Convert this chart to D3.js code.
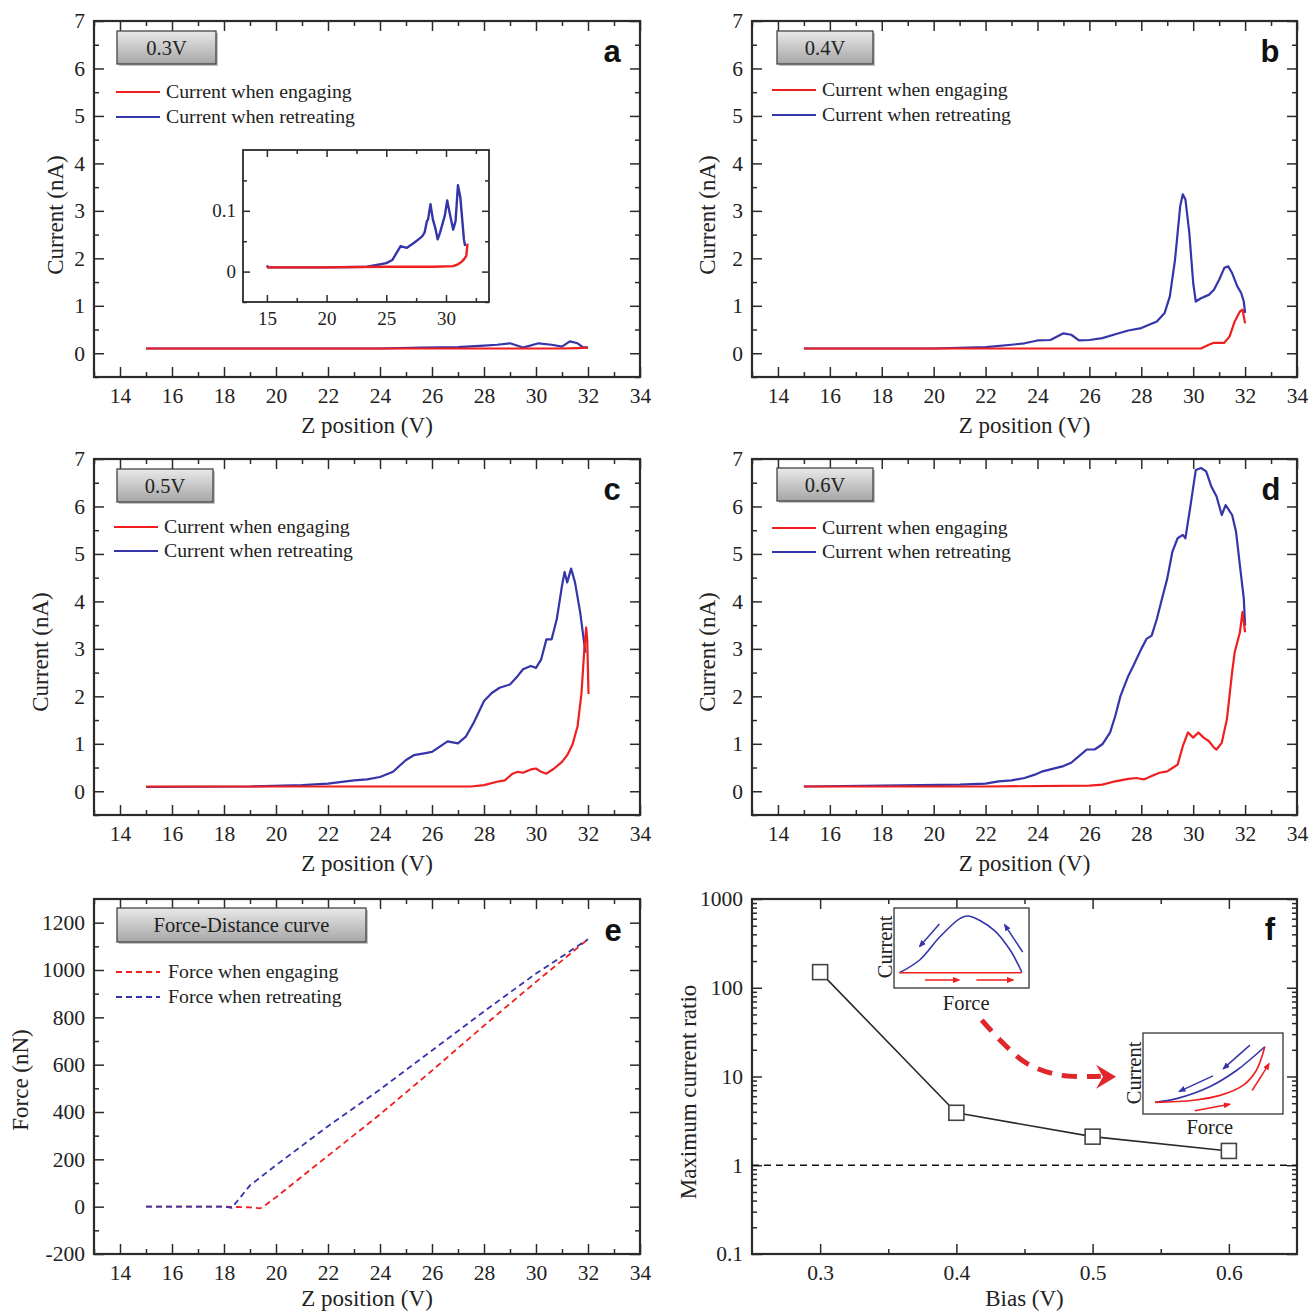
<!DOCTYPE html>
<html>
<head>
<meta charset="utf-8">
<script src="https://cdn.jsdelivr.net/npm/d3@7"></script>
<style>
  body { margin: 0; background: #fff; }
  svg text { fill: #222; }
</style>
</head>
<body>
<svg id="fig" width="1311" height="1313"></svg>
<script>
// ---------- data: current vs Z position [Z (V), current (nA)] ----------
const aEngaging = [[15,0.1],[20,0.1],[25,0.1],[28,0.1],[31,0.1],[31.6,0.11],[32,0.12]];
const aRetreating = [[15,0.1],[20,0.1],[24,0.1],[25.6,0.12],[27,0.13],[28,0.16],[28.5,0.18],[29,0.21],[29.5,0.12],[30.1,0.21],[30.6,0.18],[31,0.14],[31.3,0.25],[31.6,0.21],[31.8,0.13],[32,0.12]];
// magnified view of the 0.3 V curves
const aInsetEngaging = [[15,0.007],[20,0.007],[25,0.008],[29,0.008],[30.6,0.009],[31,0.012],[31.3,0.016],[31.5,0.02],[31.7,0.026],[31.8,0.046]];
const aInsetRetreating = [[15,0.01],[15.1,0.007],[20,0.007],[23.4,0.008],[25,0.014],[25.5,0.019],[26.2,0.042],[26.7,0.039],[27.3,0.047],[27.7,0.053],[28,0.058],[28.2,0.064],[28.4,0.083],[28.5,0.086],[28.7,0.111],[28.9,0.086],[29.1,0.072],[29.3,0.053],[29.5,0.064],[29.9,0.092],[30.1,0.117],[30.3,0.097],[30.6,0.069],[30.8,0.083],[31.0,0.142],[31.2,0.122],[31.5,0.053],[31.6,0.042]];

const bEngaging = [[15,0.1],[22,0.1],[28,0.1],[30.3,0.1],[30.6,0.18],[30.8,0.22],[31.2,0.22],[31.4,0.35],[31.6,0.67],[31.8,0.88],[31.9,0.92],[32,0.63]];
const bRetreating = [[15,0.1],[20,0.1],[22,0.13],[23,0.18],[23.5,0.21],[24,0.27],[24.5,0.28],[25,0.42],[25.3,0.39],[25.6,0.27],[26,0.28],[26.5,0.32],[27,0.4],[27.5,0.48],[28,0.53],[28.3,0.6],[28.6,0.67],[28.9,0.85],[29.1,1.2],[29.3,1.97],[29.5,3.1],[29.6,3.35],[29.7,3.24],[29.85,2.54],[30,1.48],[30.1,1.09],[30.3,1.16],[30.6,1.23],[30.8,1.34],[31,1.55],[31.2,1.8],[31.35,1.83],[31.5,1.69],[31.7,1.41],[31.85,1.27],[31.95,1.09],[32,0.85]];

const cEngaging = [[15,0.1],[22,0.1],[27.5,0.1],[28,0.13],[28.5,0.2],[28.8,0.23],[29.1,0.37],[29.3,0.41],[29.5,0.39],[29.8,0.46],[30,0.48],[30.2,0.41],[30.4,0.37],[30.7,0.48],[31,0.62],[31.2,0.76],[31.4,0.98],[31.6,1.37],[31.75,2.07],[31.85,2.92],[31.93,3.45],[31.97,3.2],[32.02,2.05]];
const cRetreating = [[15,0.09],[19,0.1],[21,0.13],[22,0.16],[23,0.23],[23.5,0.25],[24,0.3],[24.5,0.41],[25,0.66],[25.3,0.76],[25.7,0.8],[26,0.83],[26.3,0.94],[26.6,1.05],[27,1.01],[27.3,1.15],[27.6,1.44],[28,1.9],[28.3,2.07],[28.6,2.18],[29,2.25],[29.3,2.43],[29.5,2.57],[29.8,2.64],[30,2.6],[30.2,2.78],[30.4,3.2],[30.6,3.2],[30.8,3.63],[31,4.33],[31.1,4.62],[31.2,4.4],[31.35,4.69],[31.5,4.4],[31.7,3.77],[31.9,2.92]];

const dEngaging = [[15,0.1],[22,0.1],[26,0.12],[26.5,0.14],[27,0.21],[27.5,0.26],[27.8,0.28],[28.1,0.25],[28.4,0.32],[28.7,0.39],[29,0.42],[29.2,0.49],[29.4,0.56],[29.6,0.95],[29.8,1.24],[30,1.13],[30.2,1.24],[30.4,1.13],[30.6,1.06],[30.8,0.92],[30.9,0.88],[31.1,1.02],[31.3,1.52],[31.5,2.51],[31.6,2.93],[31.8,3.35],[31.9,3.78],[32,3.35]];
const dRetreating = [[15,0.1],[21,0.14],[22,0.16],[22.5,0.21],[23,0.23],[23.5,0.28],[23.9,0.35],[24.2,0.42],[24.5,0.46],[25,0.53],[25.3,0.6],[25.6,0.74],[25.9,0.88],[26.2,0.88],[26.5,0.99],[26.8,1.24],[27,1.59],[27.2,2.01],[27.5,2.43],[27.7,2.65],[28,3.0],[28.2,3.21],[28.4,3.28],[28.6,3.63],[28.8,4.06],[29,4.48],[29.2,5.05],[29.4,5.33],[29.6,5.4],[29.7,5.33],[29.9,6.03],[30.1,6.77],[30.3,6.81],[30.5,6.74],[30.7,6.42],[30.9,6.21],[31.1,5.82],[31.25,6.03],[31.5,5.82],[31.65,5.47],[31.8,4.76],[31.95,4.06],[32,3.49]];

// force-distance curve [Z (V), force (nN)]
const eEngaging = [[15,0],[18,0],[19,-3],[19.4,-7],[19.6,7],[20,40],[22,215],[24,390],[26,575],[28,765],[30,950],[32,1130]];
const eRetreating = [[15,0],[18,0],[18.3,-5],[19,90],[20,175],[22,340],[24,495],[26,660],[28,825],[30,985],[32,1130]];

// maximum current ratio vs bias
const fBias = [0.3, 0.4, 0.5, 0.6];
const fRatio = [150, 3.9, 2.1, 1.45];

// tick values
const zMajor = [14,16,18,20,22,24,26,28,30,32,34];
const zMinor = [13,15,17,19,21,23,25,27,29,31,33];
const iMajor = [0,1,2,3,4,5,6,7];
const iMinor = [-0.5,0.5,1.5,2.5,3.5,4.5,5.5,6.5];
const fMajor = [-200,0,200,400,600,800,1000,1200];
const fMinor = [-100,100,300,500,700,900,1100];
const insetZMajor = [15,20,25,30];
const insetZMinor = [17.5,22.5,27.5,32.5];
const insetIMajor = [0,0.1];
const insetIMinor = [-0.05,0.05,0.15];
const biasMajor = [0.3,0.4,0.5,0.6];
const biasMinor = [0.35,0.45,0.55];
const ratioMajor = [0.1,1,10,100,1000];
const ratioMinor = [0.1,1,10,100].flatMap(d => [2,3,4,5,6,7,8,9].map(k => d * k));

const legendCurrent = ["Current when engaging", "Current when retreating"];
const legendForce = ["Force when engaging", "Force when retreating"];

// ---------- drawing ----------
const SERIF = "'Liberation Serif','Times New Roman',serif";
const SANS = "'Liberation Sans',Arial,sans-serif";
const RED = "#f01e1e";
const BLUE = "#3535aa";
const INK = "#2b2b2b";
const TICK_FS = 21.5;
const TITLE_FS = 23;

const svg = d3.select("#fig");
const defs = svg.append("defs");
const grad = defs.append("linearGradient").attr("id", "boxGrad")
  .attr("x1", 0).attr("y1", 0).attr("x2", 0).attr("y2", 1);
grad.append("stop").attr("offset", "0%").attr("stop-color", "#e9e9e9");
grad.append("stop").attr("offset", "100%").attr("stop-color", "#a6a6a6");

function styleAxis(sel, fontSize) {
  sel.select(".domain").remove();
  sel.selectAll(".tick line").attr("stroke", INK).attr("stroke-width", 1.5);
  sel.selectAll(".tick text").attr("font-family", SERIF).attr("font-size", fontSize).attr("fill", "#222");
}

function drawFrame(p) {
  const g = svg.append("g");
  const x = (p.xLog ? d3.scaleLog() : d3.scaleLinear()).domain(p.xDomain).range([p.left, p.right]);
  const y = (p.yLog ? d3.scaleLog() : d3.scaleLinear()).domain(p.yDomain).range([p.bottom, p.top]);
  const big = p.tick || 10, small = p.minorTick || 5, fs = p.fontSize || TICK_FS;

  const axes = [
    [d3.axisBottom(x).tickValues(p.xMajor).tickSize(-big).tickPadding(p.xPad || 11).tickFormat(p.xFmt), 0, p.bottom],
    [d3.axisBottom(x).tickValues(p.xMinor).tickSize(-small).tickFormat(""), 0, p.bottom],
    [d3.axisTop(x).tickValues(p.xMajor).tickSize(-big).tickFormat(""), 0, p.top],
    [d3.axisTop(x).tickValues(p.xMinor).tickSize(-small).tickFormat(""), 0, p.top],
    [d3.axisLeft(y).tickValues(p.yMajor).tickSize(-big).tickPadding(p.yPad || 9).tickFormat(p.yFmt), p.left, 0],
    [d3.axisLeft(y).tickValues(p.yMinor).tickSize(-small).tickFormat(""), p.left, 0],
    [d3.axisRight(y).tickValues(p.yMajor).tickSize(-big).tickFormat(""), p.right, 0],
    [d3.axisRight(y).tickValues(p.yMinor).tickSize(-small).tickFormat(""), p.right, 0]
  ];
  axes.forEach(([ax, tx, ty]) => {
    g.append("g").attr("transform", `translate(${tx},${ty})`).call(ax).call(s => styleAxis(s, fs));
  });
  g.append("rect").attr("x", p.left).attr("y", p.top)
    .attr("width", p.right - p.left).attr("height", p.bottom - p.top)
    .attr("fill", "none").attr("stroke", INK).attr("stroke-width", p.frameWidth || 2.2);
  return { g, x, y };
}

function axisTitles(p, xTitle, yTitle, yTitleX, yTitleY, xTitleGap) {
  svg.append("text").attr("x", (p.left + p.right) / 2).attr("y", p.bottom + (xTitleGap || 56))
    .attr("text-anchor", "middle").attr("font-family", SERIF).attr("font-size", TITLE_FS)
    .text(xTitle);
  svg.append("text")
    .attr("transform", `translate(${yTitleX},${yTitleY}) rotate(-90)`)
    .attr("text-anchor", "middle").attr("dy", "0.35em")
    .attr("font-family", SERIF).attr("font-size", TITLE_FS).text(yTitle);
}

function labelBox(x, y, w, h, text) {
  svg.append("rect").attr("x", x + 2).attr("y", y + 2).attr("width", w).attr("height", h)
    .attr("fill", "#777").attr("opacity", 0.45);
  svg.append("rect").attr("x", x).attr("y", y).attr("width", w).attr("height", h)
    .attr("fill", "url(#boxGrad)").attr("stroke", "#444").attr("stroke-width", 1.3);
  svg.append("text").attr("x", x + w / 2).attr("y", y + h / 2).attr("dy", "0.35em")
    .attr("text-anchor", "middle").attr("font-family", SERIF).attr("font-size", 20.5).text(text);
}

function panelLetter(x, y, letter) {
  svg.append("text").attr("x", x).attr("y", y).attr("text-anchor", "middle")
    .attr("font-family", SANS).attr("font-weight", "bold").attr("font-size", 31)
    .style("fill", "#111").text(letter);
}

function legend(x0, y0, gap, labels, colors, dashed) {
  labels.forEach((lab, i) => {
    const yy = y0 + i * gap;
    svg.append("line").attr("x1", x0).attr("x2", x0 + 44).attr("y1", yy).attr("y2", yy)
      .attr("stroke", colors[i]).attr("stroke-width", 2)
      .attr("stroke-dasharray", dashed ? "6,4" : null);
    svg.append("text").attr("x", x0 + (dashed ? 52 : 50)).attr("y", yy).attr("dy", "0.32em")
      .attr("font-family", SERIF).attr("font-size", 19.8).text(lab);
  });
}

function curve(fr, data, color, width, dash) {
  const line = d3.line().x(d => fr.x(d[0])).y(d => fr.y(d[1]));
  fr.g.append("path").datum(data).attr("d", line)
    .attr("fill", "none").attr("stroke", color).attr("stroke-width", width || 2.2)
    .attr("stroke-linejoin", "round").attr("stroke-dasharray", dash || null);
}

const fmtInt = d3.format("d");
const common = { xDomain: [13, 34], xMajor: zMajor, xMinor: zMinor, xFmt: fmtInt,
                 yDomain: [-0.5, 7], yMajor: iMajor, yMinor: iMinor, yFmt: fmtInt };

// ---- panel a (0.3 V) ----
const pa = Object.assign({ left: 94, right: 640, top: 21, bottom: 377 }, common);
const A = drawFrame(pa);
curve(A, aRetreating, BLUE);
curve(A, aEngaging, RED);
axisTitles(pa, "Z position (V)", "Current (nA)", 55, 215);
labelBox(117, 31, 99, 33, "0.3V");
legend(116, 92, 25, legendCurrent, [RED, BLUE]);
panelLetter(612, 62, "a");

// inset of panel a
const pai = { left: 243, right: 489, top: 150, bottom: 302, tick: 7, minorTick: 4, fontSize: 19,
  xDomain: [13, 33.6], xMajor: insetZMajor, xMinor: insetZMinor, xFmt: fmtInt, xPad: 10,
  yDomain: [-0.05, 0.2], yMajor: insetIMajor, yMinor: insetIMinor, yFmt: d => String(d), yPad: 7,
  frameWidth: 1.8 };
const AI = drawFrame(pai);
curve(AI, aInsetRetreating, BLUE, 2.4);
curve(AI, aInsetEngaging, RED, 2.4);

// ---- panel b (0.4 V) ----
const pb = Object.assign({ left: 752, right: 1297, top: 21, bottom: 377 }, common);
const B = drawFrame(pb);
curve(B, bRetreating, BLUE);
curve(B, bEngaging, RED);
axisTitles(pb, "Z position (V)", "Current (nA)", 707, 215);
labelBox(777, 31, 96, 33, "0.4V");
legend(772, 90, 25, legendCurrent, [RED, BLUE]);
panelLetter(1270, 62, "b");

// ---- panel c (0.5 V) ----
const pc = Object.assign({ left: 94, right: 640, top: 459, bottom: 815 }, common);
const C = drawFrame(pc);
curve(C, cRetreating, BLUE);
curve(C, cEngaging, RED);
axisTitles(pc, "Z position (V)", "Current (nA)", 40, 652);
labelBox(117, 469, 96, 33, "0.5V");
legend(114, 527, 24, legendCurrent, [RED, BLUE]);
panelLetter(612, 500, "c");

// ---- panel d (0.6 V) ----
const pd = Object.assign({ left: 752, right: 1297, top: 459, bottom: 815 }, common);
const D = drawFrame(pd);
curve(D, dRetreating, BLUE);
curve(D, dEngaging, RED);
axisTitles(pd, "Z position (V)", "Current (nA)", 707, 652);
labelBox(777, 468, 96, 33, "0.6V");
legend(772, 528, 24, legendCurrent, [RED, BLUE]);
panelLetter(1271, 500, "d");

// ---- panel e (force-distance) ----
const pe = { left: 94, right: 640, top: 899, bottom: 1254,
  xDomain: [13, 34], xMajor: zMajor, xMinor: zMinor, xFmt: fmtInt,
  yDomain: [-200, 1300], yMajor: fMajor, yMinor: fMinor, yFmt: d => String(d) };
const E = drawFrame(pe);
curve(E, eEngaging, RED, 1.8, "6,4");
curve(E, eRetreating, BLUE, 1.8, "6,4");
axisTitles(pe, "Z position (V)", "Force (nN)", 20, 1080, 52);
labelBox(117, 908, 249, 34, "Force-Distance curve");
legend(116, 972, 25, legendForce, [RED, BLUE], true);
panelLetter(613, 941, "e");

// ---- panel f (maximum current ratio) ----
const pf = { left: 752, right: 1297, top: 899, bottom: 1254,
  xDomain: [0.25, 0.65], xMajor: biasMajor, xMinor: biasMinor, xFmt: d3.format(".1f"),
  yLog: true, yDomain: [0.1, 1000], yMajor: ratioMajor, yMinor: ratioMinor, yFmt: d => String(d) };
const F = drawFrame(pf);
F.g.append("line").attr("x1", pf.left).attr("x2", pf.right)
  .attr("y1", F.y(1)).attr("y2", F.y(1))
  .attr("stroke", "#111").attr("stroke-width", 1.6).attr("stroke-dasharray", "7,5");
const fPts = fBias.map((b, i) => [b, fRatio[i]]);
curve(F, fPts, "#2a2a2a", 1.6);
F.g.selectAll("rect.pt").data(fPts).join("rect").attr("class", "pt")
  .attr("x", d => F.x(d[0]) - 7.5).attr("y", d => F.y(d[1]) - 7.5)
  .attr("width", 15).attr("height", 15)
  .attr("fill", "#fff").attr("stroke", "#444").attr("stroke-width", 1.6);
axisTitles(pf, "Bias (V)", "Maximum current ratio", 688, 1092, 52);
panelLetter(1270, 940, "f");

// schematic sketches inside panel f, placed in fractions of the plot area
const ax = d3.scaleLinear([0, 1], [pf.left, pf.right]);
const ay = d3.scaleLinear([0, 1], [pf.top, pf.bottom]);

defs.append("marker").attr("id", "headBlue").attr("viewBox", "0 0 10 10")
  .attr("refX", 8).attr("refY", 5).attr("markerWidth", 5).attr("markerHeight", 5)
  .attr("orient", "auto").append("path").attr("d", "M0,1 L10,5 L0,9 z").attr("fill", BLUE);
defs.append("marker").attr("id", "headRed").attr("viewBox", "0 0 10 10")
  .attr("refX", 8).attr("refY", 5).attr("markerWidth", 5).attr("markerHeight", 5)
  .attr("orient", "auto").append("path").attr("d", "M0,1 L10,5 L0,9 z").attr("fill", RED);

function sketch(box, curves, arrows, curLabel, forceLabel) {
  const x0 = ax(box[0]), x1 = ax(box[1]), y0 = ay(box[2]), y1 = ay(box[3]);
  const sx = d3.scaleLinear([0, 1], [x0, x1]);
  const sy = d3.scaleLinear([0, 1], [y1, y0]);
  const g = svg.append("g");
  g.append("rect").attr("x", x0).attr("y", y0).attr("width", x1 - x0).attr("height", y1 - y0)
    .attr("fill", "#fff").attr("stroke", "#333").attr("stroke-width", 1.3);
  const ln = d3.line().x(d => sx(d[0])).y(d => sy(d[1])).curve(d3.curveCatmullRom);
  curves.forEach(c => g.append("path").datum(c.pts).attr("d", ln)
    .attr("fill", "none").attr("stroke", c.color).attr("stroke-width", 1.6));
  arrows.forEach(a => g.append("line")
    .attr("x1", sx(a.from[0])).attr("y1", sy(a.from[1]))
    .attr("x2", sx(a.to[0])).attr("y2", sy(a.to[1]))
    .attr("stroke", a.color).attr("stroke-width", 1.5)
    .attr("marker-end", a.color === RED ? "url(#headRed)" : "url(#headBlue)"));
  g.append("text").attr("transform", `translate(${ax(curLabel[0])},${ay(curLabel[1])}) rotate(-90)`)
    .attr("text-anchor", "middle").attr("dy", "0.35em")
    .attr("font-family", SERIF).attr("font-size", 20.5).text("Current");
  g.append("text").attr("x", ax(forceLabel[0])).attr("y", ay(forceLabel[1])).attr("dy", "0.35em")
    .attr("text-anchor", "middle").attr("font-family", SERIF).attr("font-size", 20.5).text("Force");
}

sketch([0.2606, 0.5083, 0.0254, 0.2507],
  [ { color: BLUE, pts: [[0.04,0.19],[0.19,0.35],[0.34,0.64],[0.49,0.87],[0.55,0.9],[0.74,0.725],[0.86,0.475],[0.946,0.2]] },
    { color: RED, pts: [[0.04,0.19],[0.946,0.19]] } ],
  [ { color: BLUE, from: [0.336,0.8], to: [0.19,0.52] },
    { color: BLUE, from: [0.953,0.45], to: [0.82,0.79] },
    { color: RED, from: [0.23,0.1], to: [0.48,0.1] },
    { color: RED, from: [0.61,0.1], to: [0.88,0.1] } ],
  [0.243, 0.135], [0.393, 0.293]);

sketch([0.7174, 0.9743, 0.3775, 0.6056],
  [ { color: BLUE, pts: [[0.086,0.144],[0.24,0.19],[0.48,0.34],[0.67,0.54],[0.87,0.83]] },
    { color: RED, pts: [[0.086,0.144],[0.36,0.17],[0.55,0.23],[0.72,0.36],[0.81,0.54],[0.87,0.83]] } ],
  [ { color: BLUE, from: [0.764,0.85], to: [0.574,0.56] },
    { color: BLUE, from: [0.5,0.47], to: [0.26,0.28] },
    { color: RED, from: [0.37,0.04], to: [0.62,0.12] },
    { color: RED, from: [0.78,0.29], to: [0.9,0.62] } ],
  [0.700, 0.49], [0.84, 0.642]);

// curved dashed arrow linking the two sketches
const arcPts = [[0.4215,0.341],[0.461,0.4065],[0.504,0.463],[0.565,0.496],[0.64,0.499]];
svg.append("path").datum(arcPts)
  .attr("d", d3.line().x(d => ax(d[0])).y(d => ay(d[1])).curve(d3.curveCatmullRom))
  .attr("fill", "none").attr("stroke", "#e0262b").attr("stroke-width", 5)
  .attr("stroke-dasharray", "15,10");
const tipX = ax(0.668), tipY = ay(0.501);
svg.append("path")
  .attr("d", `M${tipX},${tipY} L${tipX - 20},${tipY - 12} L${tipX - 13},${tipY} L${tipX - 20},${tipY + 12} Z`)
  .attr("fill", "#e0262b");
</script>
</body>
</html>
